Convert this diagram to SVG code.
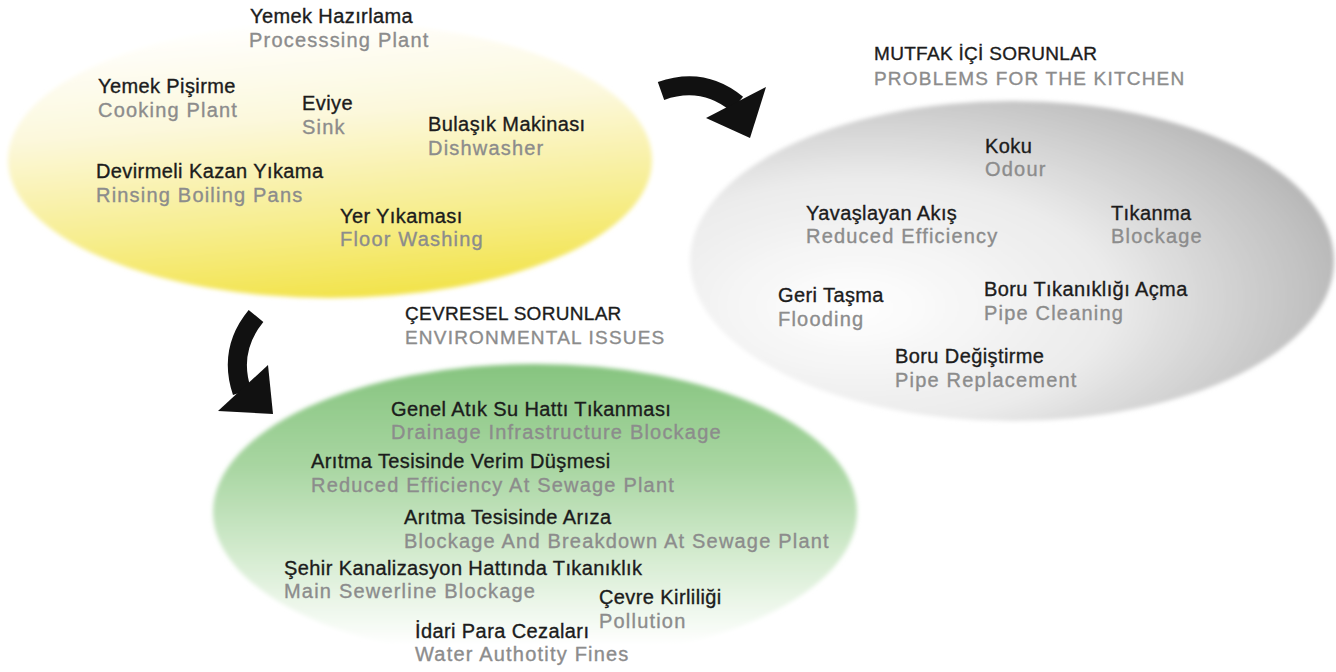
<svg xmlns="http://www.w3.org/2000/svg" width="1336" height="672" viewBox="0 0 1336 672">
<defs>
<linearGradient id="gYellow" x1="0.35" y1="0" x2="0.55" y2="1">
<stop offset="0" stop-color="#ffffff"/>
<stop offset="0.35" stop-color="#fcf8dc"/>
<stop offset="0.7" stop-color="#f7ee92"/>
<stop offset="1" stop-color="#f2e34a"/>
</linearGradient>
<radialGradient id="gGray" cx="0.3" cy="0.6" r="0.85" fx="0.25" fy="0.65">
<stop offset="0" stop-color="#ffffff"/>
<stop offset="0.45" stop-color="#ebebeb"/>
<stop offset="0.8" stop-color="#c0c0c0"/>
<stop offset="1" stop-color="#a2a2a2"/>
</radialGradient>
<linearGradient id="gGreen" x1="0.5" y1="0" x2="0.5" y2="1">
<stop offset="0" stop-color="#86c47f"/>
<stop offset="0.35" stop-color="#a9d6a2"/>
<stop offset="0.7" stop-color="#dcefd8"/>
<stop offset="0.95" stop-color="#ffffff"/>
</linearGradient>
<filter id="soft" x="-5%" y="-5%" width="110%" height="110%">
<feGaussianBlur stdDeviation="2"/>
</filter>
<style>
text{font-family:"Liberation Sans",Arial,sans-serif;font-size:20px;stroke-width:0.35px}
.tr{fill:#1c1c1c;stroke:#1c1c1c;letter-spacing:0.4px}
.en{fill:#8c8c8c;stroke:#8c8c8c;letter-spacing:1.2px}
.hd{fill:#1c1c1c;stroke:#1c1c1c;font-size:19px;letter-spacing:0.3px}
.hde{fill:#8c8c8c;stroke:#8c8c8c;font-size:19px;letter-spacing:1.2px}
.arrow{fill:#111111}
.arrowBody{fill:none;stroke:#111111;stroke-width:19}
</style>
</defs>
<rect width="1336" height="672" fill="#ffffff"/>

<g id="kitchen-processes">
<ellipse cx="330" cy="160" rx="322" ry="138" fill="url(#gYellow)" filter="url(#soft)"/>
<text class="tr" x="250" y="23">Yemek Hazırlama</text>
<text class="en" x="249" y="47">Processsing Plant</text>
<text class="tr" x="98" y="93">Yemek Pişirme</text>
<text class="en" x="98" y="117">Cooking Plant</text>
<text class="tr" x="302" y="110">Eviye</text>
<text class="en" x="302" y="134">Sink</text>
<text class="tr" x="428" y="131">Bulaşık Makinası</text>
<text class="en" x="428" y="155">Dishwasher</text>
<text class="tr" x="96" y="178">Devirmeli Kazan Yıkama</text>
<text class="en" x="96" y="202">Rinsing Boiling Pans</text>
<text class="tr" x="340" y="223">Yer Yıkaması</text>
<text class="en" x="340" y="246">Floor Washing</text>
</g>

<g id="kitchen-problems">
<ellipse cx="1012" cy="261" rx="322" ry="160" fill="url(#gGray)" filter="url(#soft)"/>
<text class="hd" x="874" y="60">MUTFAK İÇİ SORUNLAR</text>
<text class="hde" x="874" y="85">PROBLEMS FOR THE KITCHEN</text>
<text class="tr" x="985" y="153">Koku</text>
<text class="en" x="985" y="176">Odour</text>
<text class="tr" x="806" y="220">Yavaşlayan Akış</text>
<text class="en" x="806" y="243">Reduced Efficiency</text>
<text class="tr" x="1111" y="220">Tıkanma</text>
<text class="en" x="1111" y="243">Blockage</text>
<text class="tr" x="778" y="302">Geri Taşma</text>
<text class="en" x="778" y="326">Flooding</text>
<text class="tr" x="984" y="296">Boru Tıkanıklığı Açma</text>
<text class="en" x="984" y="320">Pipe Cleaning</text>
<text class="tr" x="895" y="363">Boru Değiştirme</text>
<text class="en" x="895" y="387">Pipe Replacement</text>
</g>

<g id="environmental-issues">
<ellipse cx="535" cy="512" rx="322" ry="148" fill="url(#gGreen)" filter="url(#soft)"/>
<text class="hd" x="405" y="320">ÇEVRESEL SORUNLAR</text>
<text class="hde" x="405" y="344">ENVIRONMENTAL ISSUES</text>
<text class="tr" x="391" y="416">Genel Atık Su Hattı Tıkanması</text>
<text class="en" x="391" y="439">Drainage Infrastructure Blockage</text>
<text class="tr" x="311" y="468">Arıtma Tesisinde Verim Düşmesi</text>
<text class="en" x="311" y="492">Reduced Efficiency At Sewage Plant</text>
<text class="tr" x="404" y="524">Arıtma Tesisinde Arıza</text>
<text class="en" x="404" y="548">Blockage And Breakdown At Sewage Plant</text>
<text class="tr" x="284" y="575">Şehir Kanalizasyon Hattında Tıkanıklık</text>
<text class="en" x="284" y="598">Main Sewerline Blockage</text>
<text class="tr" x="599" y="604">Çevre Kirliliği</text>
<text class="en" x="599" y="628">Pollution</text>
<text class="tr" x="415" y="638">İdari Para Cezaları</text>
<text class="en" x="415" y="661">Water Authotity Fines</text>
</g>

<g id="connectors">
<path class="arrowBody" d="M661 91 Q703 76 737 104"/>
<polygon class="arrow" points="706,118 766,87 750,138"/>
<path class="arrowBody" d="M256 316 Q228 350 242 392"/>
<polygon class="arrow" points="218,411 273,414 268,365"/>
</g>
</svg>
